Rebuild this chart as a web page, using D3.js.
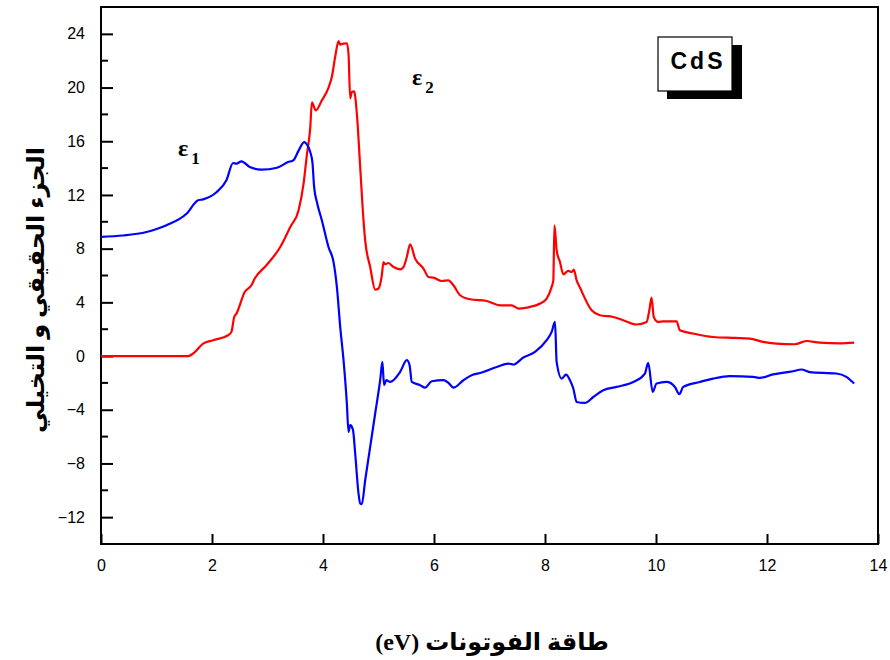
<!DOCTYPE html>
<html>
<head>
<meta charset="utf-8">
<script src="https://cdn.jsdelivr.net/npm/d3@7"></script>
<style>
  body { margin: 0; background: #fff; }
  svg { display: block; }
</style>
</head>
<body>
<svg id="chart"></svg>
<script>
const WIDTH = 890;
const HEIGHT = 660;
const PLOT = { left: 101, right: 878, top: 7, bottom: 544 };

// photon energy (eV) and real part eps1
const eps1X = [0, 0.4, 0.82, 1.18, 1.54, 1.75, 1.84, 2.08, 2.26, 2.38, 2.44, 2.53, 2.59, 2.68, 2.89, 3.17, 3.37, 3.47, 3.56, 3.66, 3.72, 3.77, 3.81, 3.84, 3.89, 3.98, 4.1, 4.19, 4.25, 4.31, 4.37, 4.43, 4.46, 4.49, 4.54, 4.58, 4.64, 4.67, 4.7, 4.76, 4.85, 4.94, 5.03, 5.07, 5.1, 5.14, 5.21, 5.39, 5.51, 5.56, 5.6, 5.75, 5.84, 5.96, 6.17, 6.26, 6.35, 6.53, 6.71, 6.83, 7.13, 7.34, 7.43, 7.61, 7.82, 8.03, 8.12, 8.18, 8.21, 8.3, 8.38, 8.45, 8.51, 8.57, 8.72, 8.87, 9.05, 9.29, 9.59, 9.8, 9.86, 9.94, 10.01, 10.19, 10.34, 10.42, 10.49, 10.79, 11.03, 11.33, 11.75, 11.87, 12.11, 12.47, 12.62, 12.77, 13.25, 13.43, 13.57];
const eps1Y = [8.88, 8.98, 9.24, 9.74, 10.6, 11.6, 11.67, 12.2, 13.1, 14.38, 14.33, 14.5, 14.38, 14.08, 13.89, 14.03, 14.45, 14.6, 15.3, 15.94, 15.7, 15.2, 14.4, 12.6, 11.47, 10.1, 8.1, 7.0, 5.15, 2.17, -0.31, -3.54, -5.65, -5.15, -5.5, -7.26, -10.24, -10.98, -11.04, -9.25, -6.77, -4.28, -1.8, -0.44, -2.17, -1.8, -1.93, -1.18, -0.31, -0.68, -1.93, -2.17, -2.35, -1.88, -1.8, -2.0, -2.35, -1.8, -1.38, -1.26, -0.81, -0.56, -0.63, -0.11, 0.31, 1.18, 1.8, 2.54, -0.44, -1.68, -1.38, -1.8, -2.42, -3.42, -3.49, -3.05, -2.55, -2.3, -1.93, -1.3, -0.51, -2.67, -2.05, -1.93, -2.3, -2.84, -2.3, -1.93, -1.68, -1.5, -1.55, -1.63, -1.36, -1.13, -1.0, -1.2, -1.3, -1.55, -2.05];

// imaginary part eps2
const eps2X = [0, 1.57, 1.69, 1.84, 2.02, 2.29, 2.35, 2.4, 2.44, 2.59, 2.71, 2.77, 2.98, 3.23, 3.41, 3.56, 3.65, 3.71, 3.77, 3.8, 3.87, 3.98, 4.1, 4.16, 4.22, 4.28, 4.31, 4.37, 4.43, 4.46, 4.49, 4.52, 4.56, 4.61, 4.67, 4.73, 4.76, 4.85, 4.94, 5.0, 5.06, 5.09, 5.12, 5.18, 5.27, 5.39, 5.45, 5.51, 5.57, 5.66, 5.81, 5.9, 5.99, 6.14, 6.26, 6.35, 6.47, 6.65, 6.95, 7.19, 7.4, 7.52, 7.67, 7.91, 8.03, 8.12, 8.15, 8.17, 8.21, 8.27, 8.33, 8.42, 8.48, 8.52, 8.57, 8.63, 8.84, 8.99, 9.23, 9.41, 9.65, 9.83, 9.88, 9.92, 9.96, 10.04, 10.13, 10.37, 10.43, 10.67, 11.03, 11.42, 11.69, 11.93, 12.17, 12.5, 12.71, 12.95, 13.31, 13.57];
const eps2Y = [0, 0, 0.3, 0.93, 1.18, 1.55, 1.8, 2.91, 3.16, 4.77, 5.27, 5.77, 6.76, 8.12, 9.61, 10.86, 12.84, 15.0, 17.0, 18.9, 18.3, 19.05, 20.0, 20.8, 22.3, 23.46, 23.2, 23.27, 23.3, 22.5, 19.2, 19.67, 19.72, 18.06, 14.08, 10.1, 8.62, 6.63, 4.95, 5.03, 6.02, 7.0, 6.84, 6.93, 6.63, 6.46, 6.63, 7.38, 8.32, 7.26, 6.52, 5.89, 5.84, 5.59, 5.64, 5.27, 4.53, 4.23, 4.1, 3.78, 3.78, 3.54, 3.61, 3.91, 4.28, 5.15, 5.64, 9.74, 7.88, 7.0, 6.09, 6.34, 6.26, 6.44, 5.64, 5.1, 3.41, 3.04, 2.91, 2.67, 2.35, 2.54, 3.41, 4.36, 2.91, 2.54, 2.59, 2.59, 1.92, 1.68, 1.42, 1.35, 1.3, 1.05, 0.93, 0.88, 1.12, 1.0, 0.95, 1.0];

const xTicks = [0, 2, 4, 6, 8, 10, 12, 14];
const yTicks = [-12, -8, -4, 0, 4, 8, 12, 16, 20, 24];
const yMinorTicks = [-14, -10, -6, -2, 2, 6, 10, 14, 18, 22];

const svg = d3.select("#chart").attr("width", WIDTH).attr("height", HEIGHT);

const x = d3.scaleLinear().domain([0, 14]).range([PLOT.left, PLOT.right]);
const y = d3.scaleLinear().domain([-14, 26]).range([PLOT.bottom, PLOT.top]);

// inside ticks, left axis
const yAxis = d3.axisLeft(y).tickValues(yTicks).tickSize(-12).tickPadding(16);
const yG = svg.append("g").attr("transform", `translate(${PLOT.left},0)`).call(yAxis);
yG.select(".domain").remove();
yG.selectAll("line").attr("stroke", "#000").attr("stroke-width", 2);
yG.selectAll("text")
  .attr("font-family", "Liberation Sans, Arial, sans-serif")
  .attr("font-size", 16)
  .attr("fill", "#000");

svg.append("g")
  .selectAll("line")
  .data(yMinorTicks)
  .enter()
  .append("line")
  .attr("x1", PLOT.left)
  .attr("x2", PLOT.left + 7)
  .attr("y1", (d) => y(d))
  .attr("y2", (d) => y(d))
  .attr("stroke", "#000")
  .attr("stroke-width", 2);

const xAxis = d3.axisBottom(x).tickValues(xTicks).tickSize(-10).tickPadding(16);
const xG = svg.append("g").attr("transform", `translate(0,${PLOT.bottom})`).call(xAxis);
xG.select(".domain").remove();
xG.selectAll("line").attr("stroke", "#000").attr("stroke-width", 2);
xG.selectAll("text")
  .attr("font-family", "Liberation Sans, Arial, sans-serif")
  .attr("font-size", 16)
  .attr("fill", "#000");

// frame
svg.append("rect")
  .attr("x", PLOT.left)
  .attr("y", PLOT.top)
  .attr("width", PLOT.right - PLOT.left)
  .attr("height", PLOT.bottom - PLOT.top)
  .attr("fill", "none")
  .attr("stroke", "#000")
  .attr("stroke-width", 2);

const line = d3.line()
  .x((d) => x(d[0]))
  .y((d) => y(d[1]))
  .curve(d3.curveMonotoneX);

svg.append("path")
  .datum(d3.zip(eps2X, eps2Y))
  .attr("d", line)
  .attr("fill", "none")
  .attr("stroke", "#ff0000")
  .attr("stroke-width", 2.2);

svg.append("path")
  .datum(d3.zip(eps1X, eps1Y))
  .attr("d", line)
  .attr("fill", "none")
  .attr("stroke", "#0000ff")
  .attr("stroke-width", 2.2);

// curve labels
function epsLabel(px, py, sub) {
  const t = svg.append("text")
    .attr("x", px)
    .attr("y", py)
    .attr("font-family", "Liberation Serif, Times New Roman, serif")
    .attr("font-weight", "bold")
    .attr("font-size", 24)
    .attr("fill", "#000");
  t.append("tspan").text("ε");
  t.append("tspan")
    .attr("dx", 3)
    .attr("dy", 8)
    .attr("font-size", 17)
    .text(sub);
}
epsLabel(178, 156, "1");
epsLabel(412, 85, "2");

// CdS box with shadow
svg.append("rect")
  .attr("x", 667).attr("y", 45).attr("width", 75).attr("height", 54)
  .attr("fill", "#000");
svg.append("rect")
  .attr("x", 658).attr("y", 37).attr("width", 74).attr("height", 54)
  .attr("fill", "#fff").attr("stroke", "#000").attr("stroke-width", 1.2);
svg.append("text")
  .attr("x", 698)
  .attr("y", 69)
  .attr("text-anchor", "middle")
  .attr("font-family", "Liberation Sans, Arial, sans-serif")
  .attr("font-weight", "bold")
  .attr("font-size", 23)
  .attr("letter-spacing", 3)
  .text("CdS");

// axis titles
svg.append("text")
  .attr("x", 492)
  .attr("y", 650)
  .attr("direction", "rtl")
  .attr("text-anchor", "middle")
  .attr("font-family", "Liberation Serif, DejaVu Sans, serif")
  .attr("font-weight", "bold")
  .attr("font-size", 24)
  .text("طاقة الفوتونات (eV)");

svg.append("text")
  .attr("transform", "translate(44,290) rotate(-90)")
  .attr("direction", "rtl")
  .attr("text-anchor", "middle")
  .attr("font-family", "Liberation Serif, DejaVu Sans, serif")
  .attr("font-weight", "bold")
  .attr("font-size", 24)
  .text("الجزء الحقيقي و التخيلي");
</script>
</body>
</html>
